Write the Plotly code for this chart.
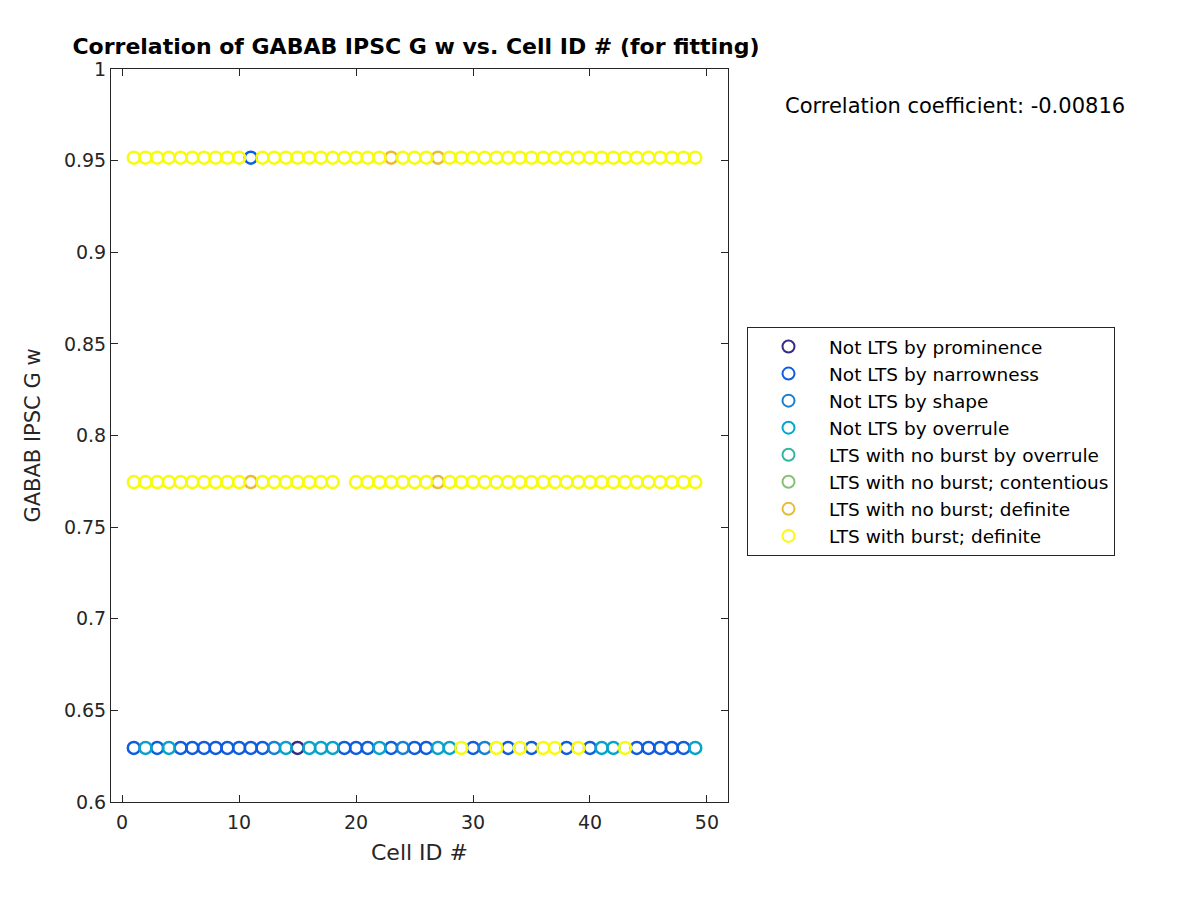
import plotly.graph_objects as go

# ---- data ----
cell_ids = list(range(1, 50))
row_values = [0.9516, 0.7746, 0.6295]

category_names = [
    "Not LTS by prominence",
    "Not LTS by narrowness",
    "Not LTS by shape",
    "Not LTS by overrule",
    "LTS with no burst by overrule",
    "LTS with no burst; contentious",
    "LTS with no burst; definite",
    "LTS with burst; definite",
]
category_colors = [
    "#352a87", "#0f5cdd", "#1481d6", "#06a4ca",
    "#2eb7a4", "#87bf77", "#eaba30", "#f9fb0e",
]

# category index per cell (None = no point)
top_cat = [7] * 49
top_cat[11 - 1] = 1
top_cat[23 - 1] = 6
top_cat[27 - 1] = 6

mid_cat = [7] * 49
mid_cat[11 - 1] = 6
mid_cat[19 - 1] = None
mid_cat[27 - 1] = 6

bottom_cat = [
    1, 3, 1, 3, 1, 1, 1, 1, 1, 1,   # 1-10
    1, 1, 2, 3, 0, 3, 3, 3, 1, 1,   # 11-20
    1, 3, 1, 2, 1, 1, 3, 3, 7, 1,   # 21-30
    2, 7, 1, 7, 1, 7, 7, 1, 7, 1,   # 31-40
    3, 3, 7, 1, 1, 1, 1, 1, 3,      # 41-49
]

corr_text = "Correlation coefficient: -0.00816"

# ---- build ----
rows = [top_cat, mid_cat, bottom_cat]
fig = go.Figure()
for ci, (name, col) in enumerate(zip(category_names, category_colors)):
    xs, ys = [], []
    for rv, cats in zip(row_values, rows):
        for x, c in zip(cell_ids, cats):
            if c == ci:
                xs.append(x)
                ys.append(rv)
    if not xs:
        xs, ys = [None], [None]
    fig.add_trace(go.Scatter(
        x=xs, y=ys, mode="markers", name=name,
        marker=dict(symbol="circle-open", size=12, color=col,
                    line=dict(width=2.5, color=col)),
    ))

axis_common = dict(
    showgrid=False, zeroline=False, showline=True, linecolor="#262626",
    linewidth=1, mirror="ticks", ticks="inside", ticklen=7,
    tickcolor="#262626", tickfont=dict(size=19, color="#262626"),
)
fig.update_xaxes(range=[-0.95, 51.8], tickvals=[0, 10, 20, 30, 40, 50],
                 ticklabelstandoff=3,
                 title=dict(text="Cell ID #", font=dict(size=22, color="#262626"), standoff=12),
                 **axis_common)
fig.update_yaxes(range=[0.6, 1.0],
                 tickvals=[0.6, 0.65, 0.7, 0.75, 0.8, 0.85, 0.9, 0.95, 1.0],
                 ticktext=["0.6", "0.65", "0.7", "0.75", "0.8", "0.85", "0.9", "0.95", "1"],
                 title=dict(text="GABAB IPSC G w", font=dict(size=21, color="#262626"), standoff=17),
                 **axis_common)

fig.update_layout(
    width=1200, height=900,
    margin=dict(l=103, r=480, t=61, b=106, autoexpand=False),
    paper_bgcolor="white", plot_bgcolor="white",
    font=dict(family="DejaVu Sans", color="#262626"),
    title=dict(text="<b>Correlation of GABAB IPSC G w vs. Cell ID # (for fitting)</b>",
               x=(408 / 1200), xanchor="center", y=1 - 38 / 900, yanchor="middle",
               font=dict(size=22, color="black")),
    legend=dict(x=(747 - 111) / 617, y=(800 - 325) / 733, xanchor="left", yanchor="top",
                bordercolor="#262626", borderwidth=1, bgcolor="white",
                font=dict(size=18.5, color="black"), itemsizing="constant",
                itemwidth=71, tracegroupgap=0),
    showlegend=True,
    annotations=[dict(text=corr_text, xref="paper", yref="paper",
                      x=(1127 - 111) / 617, y=(800 - 104) / 733,
                      xanchor="right", yanchor="middle", showarrow=False,
                      font=dict(size=21, color="black"))],
)

fig.write_html("out.html")
